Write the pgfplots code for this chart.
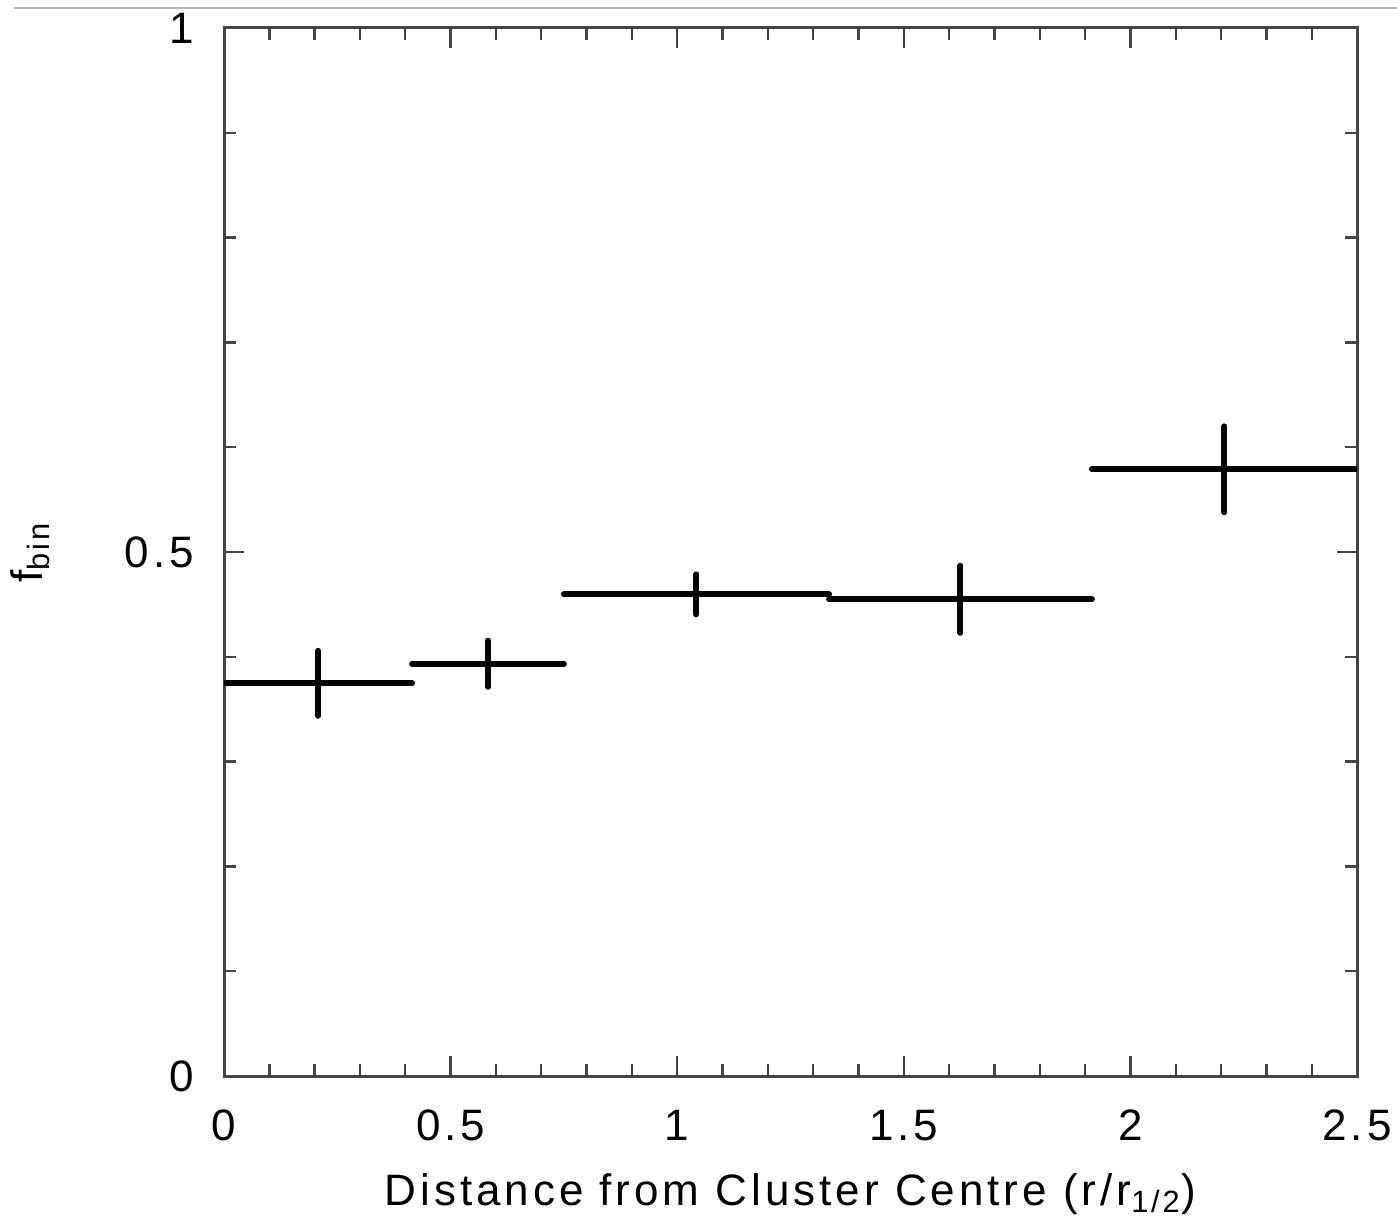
\documentclass[border=0pt]{standalone}
\usepackage{amsmath}
\usepackage{pgfplots}
\pgfplotsset{compat=1.18}
\usepackage{pgfplotstable}
\usepackage{fontspec}
\setmainfont{Liberation Sans}[LetterSpace=9]
\pgfplotstableread{
x y ex ey
0.2075 0.3747 0.2075 0.031
0.5825 0.3934 0.1675 0.022
1.0425 0.4596 0.2925 0.019
1.6250 0.4549 0.2900 0.032
2.2075 0.5789 0.2925 0.041
}\fbin
\definecolor{axgray}{HTML}{444444}
\begin{document}
\begin{tikzpicture}
\begin{axis}[
  scale only axis,
  width=283.25pt, height=262pt,
  xmin=0, xmax=2.5, ymin=0, ymax=1,
  xtick={0,0.5,1,1.5,2,2.5},
  ytick={0,0.5,1},
  minor x tick num=4,
  minor y tick num=4,
  tick align=inside,
  major tick length=5pt,
  minor tick length=3pt,
  axis line style={draw=axgray, line width=0.75pt},
  every tick/.style={axgray, line width=0.6pt},
  tick pos=both,
  font=\fontsize{11}{13}\selectfont,
  /pgf/number format/assume math mode=true,
  xticklabel style={yshift=-5pt},
  yticklabel style={xshift=-4pt},
  xlabel={Distance from Cluster Centre (r/r$_{\text{1/2}}$)},
  ylabel={f$_{\text{bin}}$},
  xlabel style={at={(axis description cs:0.5,0)}, anchor=center, yshift=-29.5pt},
  ylabel style={at={(axis description cs:-0.171,0.5)}, anchor=center},
  clip=true,
]
\addplot[draw=none, mark=none,
  error bars/.cd,
  x dir=both, x explicit, y dir=both, y explicit,
  error mark=none,
  error bar style={draw=black, line width=1.5pt, line cap=round}]
  table[x=x, y=y, x error=ex, y error=ey] {\fbin};
\end{axis}
\pgfresetboundingbox
\path[use as bounding box] ([shift={(-56pt,-38pt)}]current axis.south west) rectangle ([shift={(10pt,7pt)}]current axis.north east);
\draw[black!28, line width=0.5pt] ([shift={(-52.5pt,5pt)}]current axis.north west) -- ([shift={(10pt,5pt)}]current axis.north east);
\end{tikzpicture}
\end{document}
